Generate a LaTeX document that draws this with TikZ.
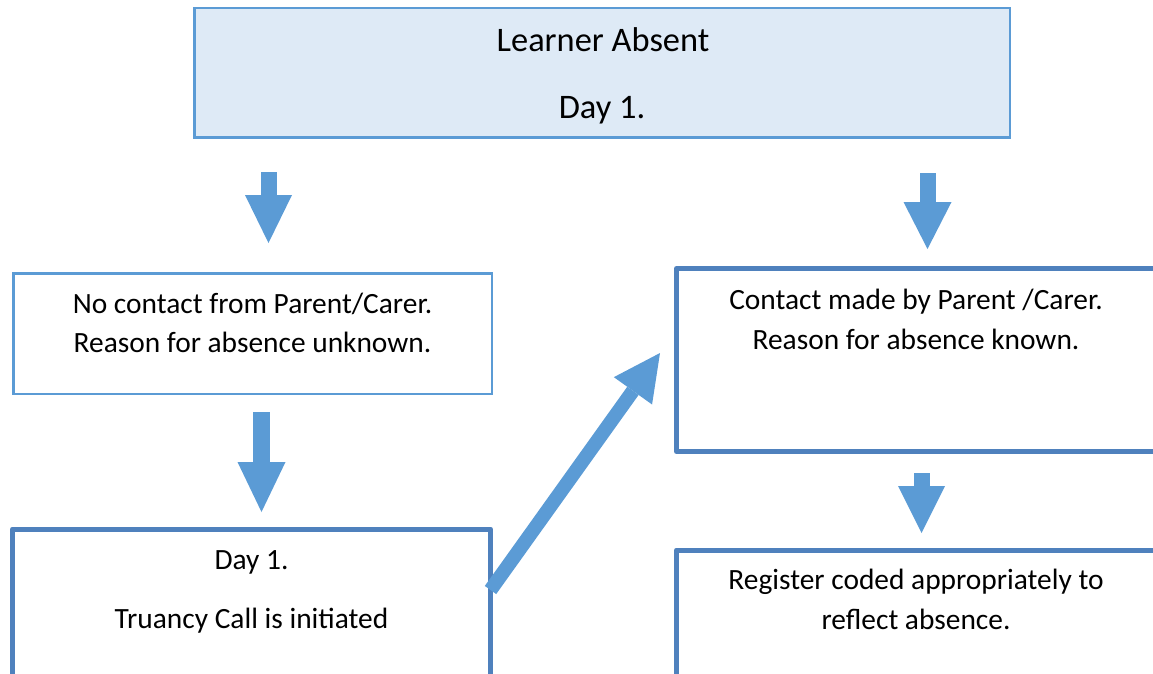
\documentclass[tikz,border=0pt]{standalone}
\usepackage{fontspec}
\setmainfont{Carlito}
\usetikzlibrary{arrows.meta}
\definecolor{boxfill}{HTML}{DEEAF6}
\definecolor{lightline}{HTML}{5B9BD5}
\definecolor{darkline}{HTML}{4F81BD}
\definecolor{arrowfill}{HTML}{5B9BD5}
\begin{document}
\begin{tikzpicture}[x=1pt,y=-1pt,
  thinbox/.style={draw=lightline,line width=2.5pt,inner sep=0pt,outer sep=0pt},
  thickbox/.style={draw=darkline,line width=5pt,line join=round,inner sep=0pt,outer sep=0pt},
  txt/.style={anchor=base,font=\fontsize{29.4}{35}\selectfont,inner sep=0pt},
  toptxt/.style={anchor=base,font=\fontsize{34.4}{41}\selectfont,inner sep=0pt},
  blockarrow/.style={draw=arrowfill,line cap=butt}]
\useasboundingbox (0,0) rectangle (1153,673);
% boxes
\node[thinbox,fill=boxfill,minimum width=815.5pt,minimum height=129.7pt] (top) at (602.25,72.85) {};
\node[thinbox,minimum width=478.5pt,minimum height=120.5pt] (nocontact) at (252.75,333.75) {};
\node[thickbox,minimum width=478pt,minimum height=171pt] (truancy) at (251.5,614.5) {};
\node[thickbox,minimum width=479pt,minimum height=183pt] (contact) at (916,360) {};
\node[thickbox,minimum width=479pt,minimum height=150pt] (register) at (916,625) {};
% texts
\node[toptxt] (t1) at (603,51.7) {Learner Absent};
\node[toptxt] (t2) at (602,118) {Day 1.};
\node[txt] (n1) at (252.5,313) {No contact from Parent/Carer.};
\node[txt] (n2) at (252.5,352) {Reason for absence unknown.};
\node[txt] (d1) at (251.5,569) {Day 1.};
\node[txt] (d2) at (251.5,628) {Truancy Call is initiated};
\node[txt] (c1) at (916,309) {Contact made by Parent /Carer.};
\node[txt] (c2) at (916,349) {Reason for absence known.};
\node[txt] (r1) at (916,589) {Register coded appropriately to};
\node[txt] (r2) at (916,629) {reflect absence.};
% arrow end points
\coordinate (a1s) at (268.5,172);
\coordinate (a1e) at (268.5,243);
\coordinate (a2s) at (927.5,173);
\coordinate (a2e) at (927.5,249);
\coordinate (a3s) at (261.5,412);
\coordinate (a3e) at (261.5,512);
\coordinate (a4s) at (921.5,473);
\coordinate (a4e) at (921.5,533);
\coordinate (a5s) at (490.5,590);
\coordinate (a5e) at (660,353);
% arrows
\draw[blockarrow,line width=16pt,-{Triangle[length=48pt,width=47pt,line width=0pt]}] (a1s) -- (a1e);
\draw[blockarrow,line width=16pt,-{Triangle[length=47pt,width=48pt,line width=0pt]}] (a2s) -- (a2e);
\draw[blockarrow,line width=17pt,-{Triangle[length=50pt,width=48pt,line width=0pt]}] (a3s) -- (a3e);
\draw[blockarrow,line width=16pt,-{Triangle[length=47pt,width=47pt,line width=0pt]}] (a4s) -- (a4e);
\draw[blockarrow,line width=14pt,-{Triangle[length=46.5pt,width=47pt,line width=0pt]}] (a5s) -- (a5e);
\end{tikzpicture}
\end{document}
